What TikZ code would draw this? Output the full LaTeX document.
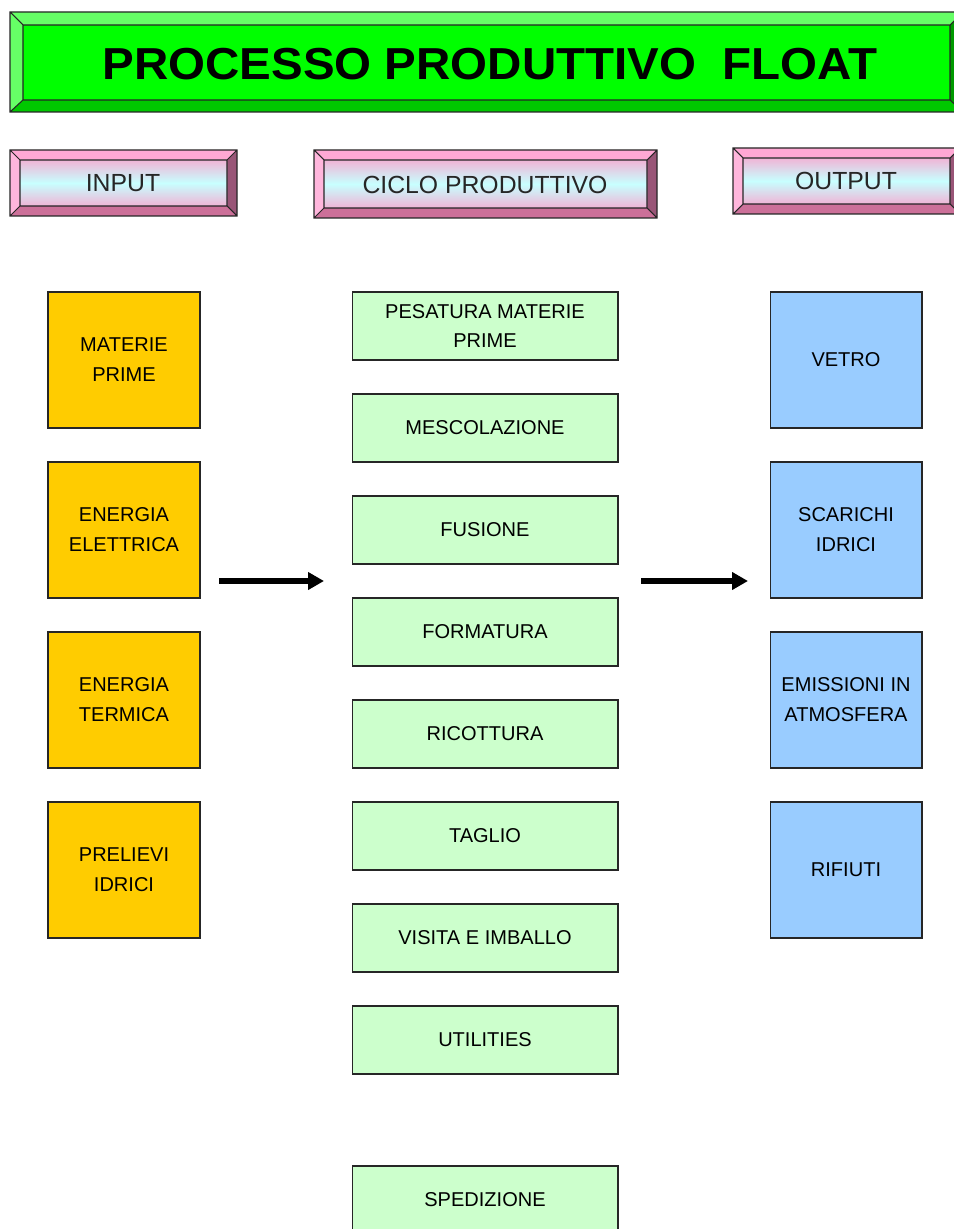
\documentclass[tikz,border=0pt]{standalone}
\usepackage{fontspec}
\setmainfont{Liberation Sans}
\usetikzlibrary{arrows.meta}

\definecolor{titlegreen}{HTML}{00FF00}
\definecolor{titlelight}{HTML}{66FF66}
\definecolor{titledark}{HTML}{00C800}
\definecolor{titleshade}{HTML}{009900}
\definecolor{pinktop}{HTML}{FFA8D4}
\definecolor{pinkleft}{HTML}{FFB6DC}
\definecolor{pinkbottom}{HTML}{CC7099}
\definecolor{pinkright}{HTML}{995577}
\definecolor{pinkface}{HTML}{F0B4D6}
\definecolor{cyanface}{HTML}{C8FFFF}
\definecolor{inputfill}{HTML}{FFCC00}
\definecolor{cyclefill}{HTML}{CCFFCC}
\definecolor{outputfill}{HTML}{99CCFF}

\tikzset{
  box/.style={draw=black!85, line width=0.6pt, inner sep=0pt, align=center,
    font=\fontsize{11.4}{17}\selectfont},
  inbox/.style={box, fill=inputfill, minimum width=3.04cm, minimum height=2.72cm},
  outbox/.style={box, fill=outputfill, minimum width=3.04cm, minimum height=2.72cm},
  cyclebox/.style={box, fill=cyclefill, minimum width=5.32cm, minimum height=1.36cm},
  headtext/.style={font=\fontsize{14.1}{16}\selectfont, text=black!85},
  bevelline/.style={draw=black!85, line width=0.6pt},
  flow/.style={line width=0.12cm, -{Triangle[length=0.32cm, width=0.34cm]}}
}

\begin{document}
\begin{tikzpicture}[x=0.02cm, y=-0.02cm]
  \useasboundingbox (0,0) rectangle (953,1229);

  % title
  \fill[titlelight] (10,12) -- (963,12) -- (950,25) -- (23,25) -- cycle;
  \fill[titlelight] (10,12) -- (23,25) -- (23,100) -- (10,112) -- cycle;
  \fill[titledark] (10,112) -- (23,100) -- (950,100) -- (963,112) -- cycle;
  \fill[titleshade] (963,12) -- (963,112) -- (950,100) -- (950,25) -- cycle;
  \fill[titlegreen] (23,25) rectangle (950,100);
  \draw[bevelline] (10,12) rectangle (963,112) (23,25) rectangle (950,100)
    (10,12) -- (23,25) (10,112) -- (23,100) (963,12) -- (950,25) (963,112) -- (950,100);
  \node[font=\fontsize{25.5}{30}\bfseries\selectfont] (title) at (490,64)
    {\scalebox{1.06}[1]{PROCESSO PRODUTTIVO\ \ FLOAT}};

  % headers
  \fill[pinktop] (10,150) -- (237,150) -- (227,160) -- (20,160) -- cycle;
  \fill[pinkleft] (10,150) -- (20,160) -- (20,206) -- (10,216) -- cycle;
  \fill[pinkbottom] (10,216) -- (20,206) -- (227,206) -- (237,216) -- cycle;
  \fill[pinkright] (237,150) -- (237,216) -- (227,206) -- (227,160) -- cycle;
  \shade[top color=pinkface, bottom color=pinkface, middle color=cyanface] (20,160) rectangle (227,206);
  \draw[bevelline] (10,150) rectangle (237,216) (20,160) rectangle (227,206)
    (10,150) -- (20,160) (237,150) -- (227,160) (10,216) -- (20,206) (237,216) -- (227,206);
  \node[headtext] (input) at (123,183) {INPUT};

  \fill[pinktop] (314,150) -- (657,150) -- (647,160) -- (324,160) -- cycle;
  \fill[pinkleft] (314,150) -- (324,160) -- (324,208) -- (314,218) -- cycle;
  \fill[pinkbottom] (314,218) -- (324,208) -- (647,208) -- (657,218) -- cycle;
  \fill[pinkright] (657,150) -- (657,218) -- (647,208) -- (647,160) -- cycle;
  \shade[top color=pinkface, bottom color=pinkface, middle color=cyanface] (324,160) rectangle (647,208);
  \draw[bevelline] (314,150) rectangle (657,218) (324,160) rectangle (647,208)
    (314,150) -- (324,160) (657,150) -- (647,160) (314,218) -- (324,208) (657,218) -- (647,208);
  \node[headtext] (ciclo) at (485,185) {CICLO PRODUTTIVO};

  \fill[pinktop] (733,148) -- (960,148) -- (950,158) -- (743,158) -- cycle;
  \fill[pinkleft] (733,148) -- (743,158) -- (743,204) -- (733,214) -- cycle;
  \fill[pinkbottom] (733,214) -- (743,204) -- (950,204) -- (960,214) -- cycle;
  \fill[pinkright] (960,148) -- (960,214) -- (950,204) -- (950,158) -- cycle;
  \shade[top color=pinkface, bottom color=pinkface, middle color=cyanface] (743,158) rectangle (950,204);
  \draw[bevelline] (733,148) rectangle (960,214) (743,158) rectangle (950,204)
    (733,148) -- (743,158) (960,148) -- (950,158) (733,214) -- (743,204) (960,214) -- (950,204);
  \node[headtext] (output) at (846,181) {OUTPUT};

  % input
  \node[inbox] (materie) at (124,360) {MATERIE\\PRIME};
  \node[inbox] (elettrica) at (124,530) {ENERGIA\\ELETTRICA};
  \node[inbox] (termica) at (124,700) {ENERGIA\\TERMICA};
  \node[inbox] (prelievi) at (124,870) {PRELIEVI\\IDRICI};

  % ciclo produttivo
  \node[cyclebox] (pesatura) at (485,326) {PESATURA MATERIE\\PRIME};
  \node[cyclebox] (mescolazione) at (485,428) {MESCOLAZIONE};
  \node[cyclebox] (fusione) at (485,530) {FUSIONE};
  \node[cyclebox] (formatura) at (485,632) {FORMATURA};
  \node[cyclebox] (ricottura) at (485,734) {RICOTTURA};
  \node[cyclebox] (taglio) at (485,836) {TAGLIO};
  \node[cyclebox] (visita) at (485,938) {VISITA E IMBALLO};
  \node[cyclebox] (utilities) at (485,1040) {UTILITIES};
  \node[cyclebox] (spedizione) at (485,1200) {SPEDIZIONE};

  % output
  \node[outbox] (vetro) at (846,360) {VETRO};
  \node[outbox] (scarichi) at (846,530) {SCARICHI\\IDRICI};
  \node[outbox] (emissioni) at (846,700) {EMISSIONI IN\\ATMOSFERA};
  \node[outbox] (rifiuti) at (846,870) {RIFIUTI};

  % arrows
  \coordinate (inStart) at (219,581);
  \coordinate (inEnd) at (324,581);
  \coordinate (outStart) at (641,581);
  \coordinate (outEnd) at (748,581);
  \draw[flow] (inStart) -- (inEnd);
  \draw[flow] (outStart) -- (outEnd);
\end{tikzpicture}
\end{document}
